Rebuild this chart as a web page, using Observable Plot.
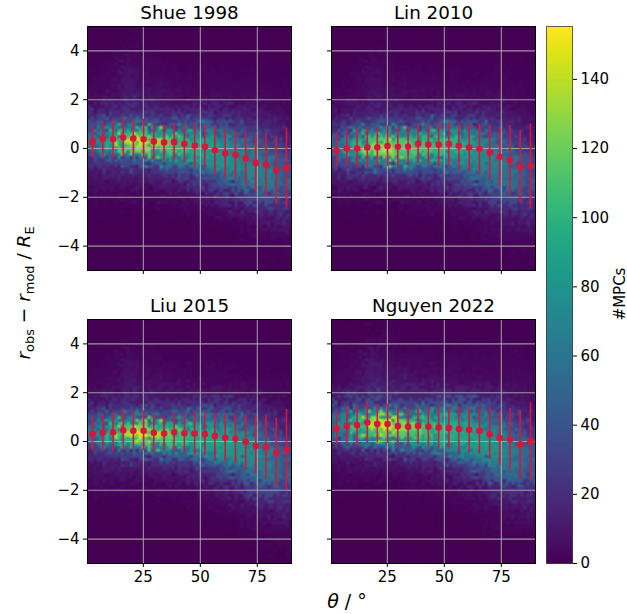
<!DOCTYPE html>
<html><head><meta charset="utf-8">
<script src="https://cdn.jsdelivr.net/npm/d3@7"></script>
<script src="https://cdn.jsdelivr.net/npm/@observablehq/plot@0.6"></script>
<style>
html,body{margin:0;padding:0;background:#fff;overflow:hidden}
#chart{position:relative;width:627px;height:614px;font-family:"DejaVu Sans",sans-serif;color:#000}
#chart>svg,#chart>div{position:absolute}
sub{font-size:.7em;line-height:0}
.lab{font-size:18.5px;white-space:nowrap;line-height:1}
</style></head><body><div id="chart"></div>
<script>
const binTheta=[2.7,7.2,11.7,16.2,20.6,25.1,29.6,34.1,38.5,43,47.5,52,56.4,60.9,65.4,69.9,74.3,78.8,83.3,87.8];
const gridTheta=[0.5,6,12,18,24,30,36,42,48,54,60,66,72,78,84,90];
const gridR=[5,4,3.5,3,2.5,2,1.5,1.2,.9,.6,.3,0,-.3,-.6,-.9,-1.2,-1.5,-2,-2.5,-3,-3.5,-4,-5];

const shueMean=[.27,.40,.38,.45,.41,.38,.29,.25,.26,.19,.12,.07,-.07,-.20,-.26,-.41,-.59,-.67,-.89,-.79];
const shueHi=[.90,1.11,1.17,1.28,1.17,1.20,1.04,.97,1.04,.98,1.02,.96,.92,.78,.74,.70,.56,.60,.48,.83];
const shueLo=[-.38,-.33,-.41,-.36,-.36,-.42,-.46,-.51,-.51,-.61,-.78,-.83,-1.08,-1.20,-1.27,-1.52,-1.75,-1.97,-2.28,-2.42];
const linMean=[-.07,0,0,.04,.05,.10,.07,.08,.19,.16,.16,.18,.11,.04,-.01,-.16,-.34,-.48,-.75,-.71];
const linHi=[.63,.74,.82,.87,.85,.93,.87,.87,.98,.98,1.07,1.09,1.09,1.01,1.01,.96,.85,.93,.74,1.01];
const linLo=[-.74,-.74,-.82,-.81,-.74,-.74,-.74,-.70,-.60,-.68,-.74,-.74,-.90,-.96,-1.05,-1.31,-1.56,-1.86,-2.24,-2.46];
const liuMean=[.30,.38,.38,.46,.44,.44,.36,.33,.38,.34,.33,.31,.23,.15,.11,-.01,-.18,-.23,-.46,-.33];
const liuHi=[.98,1.12,1.20,1.31,1.22,1.26,1.12,1.07,1.15,1.15,1.22,1.20,1.17,1.12,1.09,1.09,.98,1.07,.96,1.31];
const liuLo=[-.38,-.36,-.44,-.36,-.33,-.38,-.44,-.38,-.38,-.46,-.57,-.57,-.74,-.83,-.90,-1.15,-1.33,-1.56,-1.91,-1.99];
const nguMean=[.53,.64,.67,.78,.72,.72,.63,.60,.64,.60,.57,.55,.51,.48,.44,.30,.14,.08,-.11,.01];
const nguHi=[1.20,1.38,1.46,1.61,1.49,1.53,1.39,1.34,1.41,1.39,1.45,1.39,1.43,1.39,1.37,1.38,1.24,1.35,1.26,1.61];
const nguLo=[-.14,-.08,-.15,-.05,-.03,-.08,-.15,-.15,-.14,-.22,-.31,-.31,-.45,-.46,-.52,-.74,-.98,-1.17,-1.53,-1.59];

const shueCounts=[
[0,0,0,0,0,0,0,0,0,0,0,0,0,0,0,0],
[0,0,1,2,1,1,0,0,0,0,0,0,0,0,0,0],
[1,1,2,6,3,2,1,1,1,1,1,1,1,1,1,1],
[1,2,3,8,4,3,2,2,2,2,2,1,2,1,1,1],
[2,3,4,9,6,5,4,3,3,3,3,2,3,2,2,1],
[5,6,8,12,11,9,7,6,6,6,5,4,5,4,3,2],
[14,16,17,21,20,17,15,14,16,16,14,11,10,8,6,4],
[22,26,28,33,32,27,24,24,28,26,24,19,15,11,9,6],
[34,42,48,58,58,47,42,42,45,44,40,30,23,16,13,9],
[48,62,78,98,105,92,80,72,70,68,58,44,32,24,17,12],
[55,72,100,135,145,130,115,98,88,84,72,58,42,32,24,16],
[48,60,82,115,125,120,110,105,98,90,80,68,52,40,30,20],
[30,38,48,62,72,80,85,90,90,85,80,72,62,48,36,26],
[18,22,26,32,38,45,52,62,70,76,80,76,68,58,44,32],
[10,12,14,16,18,22,28,36,44,54,64,72,72,66,50,38],
[7,8,9,10,11,13,16,22,28,36,46,58,68,68,54,42],
[5,6,6,7,7,8,10,13,17,24,32,44,56,60,52,42],
[2,2,2,3,3,3,4,5,7,10,14,20,30,36,34,28],
[1,1,1,1,1,1,1,2,3,4,6,8,12,16,18,16],
[0,0,0,0,0,0,0,1,1,1,2,3,5,8,10,9],
[0,0,0,0,0,0,0,0,0,0,1,1,2,3,4,4],
[0,0,0,0,0,0,0,0,0,0,0,0,1,1,1,2],
[0,0,0,0,0,0,0,0,0,0,0,0,0,0,0,0]];
const linCounts=[
[0,0,0,0,0,0,0,0,0,0,0,0,0,0,0,0],
[0,0,0,1,1,0,0,0,0,0,0,0,0,0,0,0],
[0,1,1,4,2,1,1,1,1,1,1,1,1,1,1,0],
[1,1,2,5,3,2,2,2,2,2,1,1,2,2,1,1],
[1,2,3,6,5,4,3,3,3,3,3,3,3,2,2,1],
[3,4,5,8,8,7,6,6,6,6,6,5,5,4,3,2],
[6,8,11,14,16,15,13,14,15,15,14,13,11,8,6,4],
[10,13,17,22,25,24,22,24,26,28,26,22,17,12,8,6],
[17,24,32,40,44,40,38,42,48,50,46,38,26,17,12,8],
[30,42,58,72,80,74,66,70,76,78,70,56,40,27,18,12],
[46,62,86,108,118,110,100,100,102,100,88,70,52,36,24,15],
[52,68,100,128,140,128,114,110,105,100,92,78,60,44,30,20],
[44,54,76,100,118,110,100,96,90,84,82,76,66,50,36,25],
[28,34,44,58,66,68,66,62,60,62,68,72,68,56,42,30],
[16,20,24,30,34,36,34,34,38,44,54,64,66,60,46,34],
[9,11,13,16,17,18,18,20,24,30,40,52,60,58,46,36],
[6,7,8,9,9,10,10,12,15,20,28,40,50,54,44,36],
[2,3,3,3,4,4,4,5,7,10,14,20,28,34,30,25],
[1,1,1,1,1,1,2,2,3,4,6,9,13,17,18,16],
[0,0,0,0,0,0,1,1,1,2,3,4,6,8,10,9],
[0,0,0,0,0,0,0,0,0,1,1,2,3,4,4,4],
[0,0,0,0,0,0,0,0,0,0,0,1,1,1,2,2],
[0,0,0,0,0,0,0,0,0,0,0,0,0,0,0,0]];
const liuCounts=[
[0,0,0,0,0,0,0,0,0,0,0,0,0,0,0,0],
[0,0,1,2,1,1,0,0,0,0,0,0,0,0,0,0],
[1,1,2,5,2,2,1,1,1,1,1,1,1,1,1,0],
[1,2,2,7,4,3,2,2,2,2,2,1,1,1,1,1],
[2,3,4,8,6,5,4,4,3,3,3,3,2,2,2,1],
[5,6,7,11,10,9,8,8,8,8,7,7,6,4,3,2],
[12,14,17,21,21,19,17,18,20,22,22,18,14,10,7,5],
[20,25,30,35,36,32,30,30,36,40,38,30,22,15,10,7],
[32,42,52,64,66,56,50,50,56,58,56,46,34,22,15,10],
[50,66,86,110,122,105,92,86,84,80,76,62,46,32,20,14],
[56,74,104,132,148,134,120,108,98,92,86,74,58,42,28,19],
[42,52,72,96,110,112,106,102,96,92,90,82,70,52,36,25],
[26,32,40,50,58,66,70,76,82,84,86,84,76,60,44,32],
[14,18,22,26,30,34,38,46,54,64,74,78,78,66,50,37],
[8,10,12,14,15,17,20,24,32,40,52,62,72,66,52,40],
[6,7,8,8,9,10,11,14,18,24,34,46,60,62,52,42],
[4,5,5,6,6,6,7,8,11,15,22,32,46,54,48,40],
[2,2,2,2,2,2,3,3,4,6,9,14,25,31,31,27],
[0,1,1,1,1,1,1,1,2,3,4,6,10,15,16,16],
[0,0,0,0,0,0,0,0,1,1,2,3,5,7,9,9],
[0,0,0,0,0,0,0,0,0,0,1,1,2,3,4,4],
[0,0,0,0,0,0,0,0,0,0,0,0,1,1,2,2],
[0,0,0,0,0,0,0,0,0,0,0,0,0,0,0,0]];
const nguCounts=[
[0,0,0,0,0,0,0,0,0,0,0,0,0,0,0,0],
[1,1,1,3,2,1,1,1,1,1,1,1,1,1,1,1],
[1,2,3,8,4,3,2,2,2,2,2,2,2,2,2,1],
[2,3,4,10,7,6,4,4,4,4,3,3,3,3,3,2],
[3,4,7,11,10,9,7,7,7,6,5,5,4,4,4,3],
[8,10,13,18,17,15,14,14,14,14,13,12,10,8,6,5],
[20,26,32,38,36,32,30,32,36,38,38,32,24,15,10,7],
[34,46,60,72,72,62,56,56,60,64,62,52,38,24,15,10],
[50,68,96,125,130,114,98,90,86,84,78,64,50,34,22,14],
[56,76,110,138,146,136,122,110,100,96,90,78,62,44,30,20],
[46,60,84,105,118,115,108,106,100,96,92,86,72,54,38,26],
[28,36,48,60,70,76,80,86,88,90,90,88,78,62,46,32],
[15,20,25,30,35,40,46,54,62,70,78,82,78,66,52,38],
[8,10,12,15,18,20,24,30,38,48,60,70,76,66,54,42],
[5,6,7,8,9,10,12,15,20,28,38,52,64,64,54,42],
[3,4,4,5,5,6,7,8,11,16,24,36,52,56,50,42],
[2,2,3,3,3,3,4,5,7,10,15,24,38,44,42,36],
[1,1,1,1,1,1,2,2,3,4,5,8,14,20,21,20],
[0,0,0,0,1,1,1,1,1,2,2,4,7,10,11,11],
[0,0,0,0,0,0,0,0,0,1,1,2,3,5,6,6],
[0,0,0,0,0,0,0,0,0,0,1,1,2,2,3,3],
[0,0,0,0,0,0,0,0,0,0,0,0,1,1,1,1],
[0,0,0,0,0,0,0,0,0,0,0,0,0,0,0,0]];

const xTicks=[25,50,75];
const yTicks=[-4,-2,0,2,4];
const barTicks=[0,20,40,60,80,100,120,140];
const maxCount=155.3;
const colorScale={type:"linear",scheme:"viridis",domain:[0,maxCount]};
const FONT="DejaVu Sans, sans-serif";
const chart=document.getElementById("chart");
const minus=d=>String(d).replace("-","\u2212");

function panel(name,counts,mean,lo,hi,left,top,showX,showY){
  const cells=[];
  gridR.forEach((r,i)=>gridTheta.forEach((t,j)=>cells.push({t,r,v:counts[i][j]})));
  const bars=binTheta.map((t,i)=>({t,m:mean[i],lo:lo[i],hi:hi[i]}));
  const ml=45,mt=26;
  const svg=Plot.plot({
    width:ml+204+8,height:mt+244+30,
    marginLeft:ml,marginRight:8,marginTop:mt,marginBottom:30,
    style:{background:"transparent",fontFamily:FONT,fontSize:"15px",color:"#000",overflow:"visible"},
    x:{domain:[0.5,90]},y:{domain:[-5,5]},color:colorScale,
    marks:[
      Plot.raster(cells,{x:"t",y:"r",fill:"v",interpolate:"random-walk",pixelSize:3,x1:0.5,x2:90,y1:-5,y2:5}),
      Plot.gridX(xTicks,{stroke:"#b0b0b0",strokeOpacity:.85,strokeWidth:1.1}),
      Plot.gridY(yTicks,{stroke:"#b0b0b0",strokeOpacity:.85,strokeWidth:1.1}),
      Plot.ruleX(bars,{x:"t",y1:"lo",y2:"hi",stroke:"#DC143C",strokeWidth:1.6}),
      Plot.dot(bars,{x:"t",y:"m",r:3.3,fill:"#DC143C"}),
      Plot.frame({stroke:"#000",strokeWidth:1}),
      Plot.axisX({ticks:xTicks,tickSize:4,tickPadding:4,label:null,stroke:"#000",fill:showX?"#000":"none",tickFormat:minus}),
      Plot.axisY({ticks:yTicks,tickSize:4,tickPadding:4,label:null,stroke:"#000",fill:showY?"#000":"none",tickFormat:minus}),
      Plot.text([name],{frameAnchor:"top",dy:-21,fontSize:18.3,fill:"#000",text:d=>d})
    ]
  });
  svg.style.left=(left-ml)+"px";svg.style.top=(top-mt)+"px";
  chart.appendChild(svg);
}
panel("Shue 1998",shueCounts,shueMean,shueLo,shueHi,87,26,false,true);
panel("Lin 2010",linCounts,linMean,linLo,linHi,331,26,false,false);
panel("Liu 2015",liuCounts,liuMean,liuLo,liuHi,87,319,true,true);
panel("Nguyen 2022",nguCounts,nguMean,nguLo,nguHi,331,319,true,false);

const bar=Plot.plot({
  width:26+40,height:26+537+20,
  marginLeft:0,marginRight:40,marginTop:26,marginBottom:20,
  style:{background:"transparent",fontFamily:FONT,fontSize:"15px",color:"#000",overflow:"visible"},
  x:{domain:[0,1],axis:null},y:{domain:[0,maxCount]},color:colorScale,
  marks:[
    Plot.raster({fill:(x,y)=>y,x1:0,x2:1,y1:0,y2:maxCount,width:2,height:300}),
    Plot.frame({stroke:"#000",strokeOpacity:.6,strokeWidth:1}),
    Plot.axisY({anchor:"right",ticks:barTicks,tickSize:4,tickPadding:4,label:null,stroke:"#000",tickFormat:d=>String(d)})
  ]
});
bar.style.left="546px";bar.style.top="0px";
chart.appendChild(bar);

function label(html,x,y,rot,size){
  const d=document.createElement("div");
  d.className="lab";d.innerHTML=html;
  d.style.left=x+"px";d.style.top=y+"px";
  if(size)d.style.fontSize=size+"px";
  d.style.transform="translate(-50%,-50%)"+(rot?" rotate(-90deg)":"");
  chart.appendChild(d);
}
label('<i>r</i><sub>obs</sub> \u2212 <i>r</i><sub>mod</sub> / <i>R</i><sub>E</sub>',24,293,true);
label('<i>\u03b8</i> / \u00b0',347,601,false,19);
label('#MPCs',620,294,true,15);
</script></body></html>
